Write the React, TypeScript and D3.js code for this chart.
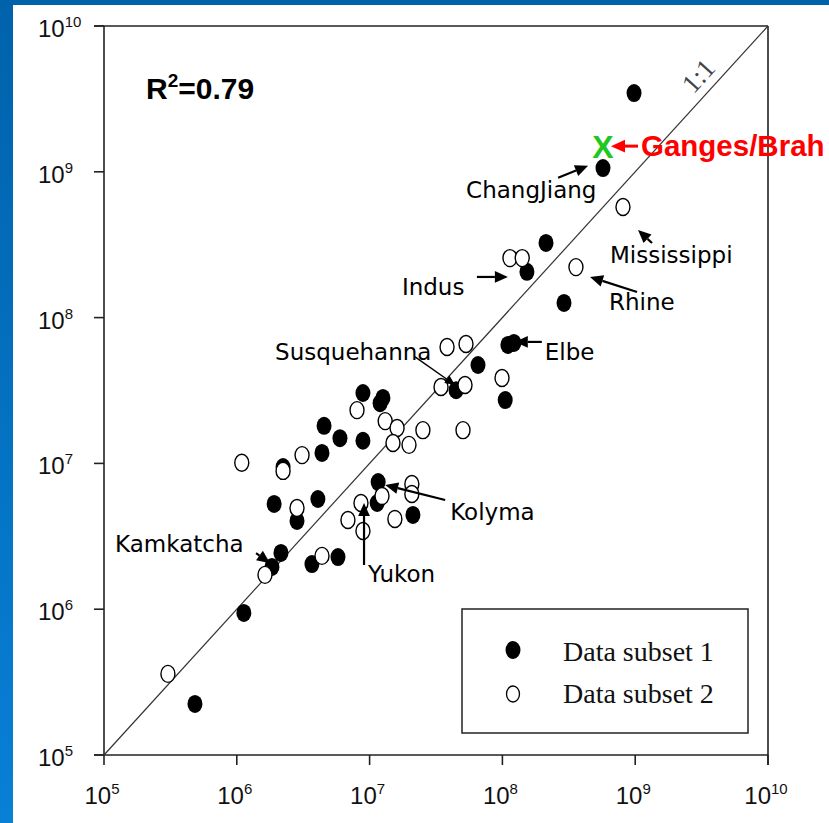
import React from "react";
import * as d3 from "d3";

const W = 829;
const H = 823;
const MARGIN = { top: 26, right: 61, bottom: 68, left: 104 };

const DECADES = [5, 6, 7, 8, 9, 10];

// Data subset 1 (filled)
const subset1X = [9.8e8, 5.72e8, 2.13e8, 1.53e8, 2.91e8, 1.1e8, 1.22e8, 6.55e7, 1.05e8, 4.48e7,
  8.91e6, 1.2e7, 1.26e7, 4.54e6, 5.98e6, 8.91e6, 4.38e6, 1.16e7, 1.14e7, 2.12e7,
  1.91e6, 2.84e6, 4.08e6, 2.15e6, 1.84e6, 3.68e6, 5.78e6, 1.13e6, 4.84e5, 2.23e6];
const subset1Y = [3.47e9, 1.06e9, 3.25e8, 2.06e8, 1.26e8, 6.49e7, 6.7e7, 4.73e7, 2.72e7, 3.18e7,
  3.04e7, 2.59e7, 2.81e7, 1.81e7, 1.49e7, 1.43e7, 1.18e7, 7.45e6, 5.35e6, 4.43e6,
  5.27e6, 4.03e6, 5.7e6, 2.43e6, 1.95e6, 2.04e6, 2.28e6, 9.42e5, 2.24e5, 9.44e6];

// Data subset 2 (open)
const subset2X = [8.09e8, 3.58e8, 1.14e8, 1.41e8, 3.83e7, 5.32e7, 3.45e7, 5.23e7, 9.93e7, 2.52e7,
  5.05e7, 8.04e6, 1.31e7, 1.61e7, 1.5e7, 1.98e7, 1.09e6, 3.1e6, 2.23e6, 2.84e6,
  2.08e7, 2.08e7, 1.24e7, 8.61e6, 6.87e6, 8.91e6, 1.55e7, 4.38e6, 1.63e6, 3.03e5];
const subset2Y = [5.74e8, 2.22e8, 2.56e8, 2.56e8, 6.28e7, 6.59e7, 3.34e7, 3.45e7, 3.85e7, 1.69e7,
  1.69e7, 2.32e7, 1.95e7, 1.75e7, 1.38e7, 1.34e7, 1.01e7, 1.14e7, 8.88e6, 4.94e6,
  7.22e6, 6.17e6, 5.97e6, 5.35e6, 4.09e6, 3.44e6, 4.16e6, 2.32e6, 1.72e6, 3.6e5];

// River annotations: arrow tip in data space, tail / text offsets in px
const rivers = [
  { name: "ChangJiang", x: 4.42e8, y: 1.1e9, tail: [-30, 12], text: [-122, 32] },
  { name: "Mississippi", x: 1.05e9, y: 3.99e8, tail: [14, 13], text: [-28, 33] },
  { name: "Indus", x: 1.1e8, y: 1.9e8, tail: [-31, 0], text: [-106, 18] },
  { name: "Rhine", x: 4.57e8, y: 1.9e8, tail: [47, 15], text: [19, 33] },
  { name: "Elbe", x: 1.24e8, y: 6.81e7, tail: [27, 0], text: [30, 18] },
  { name: "Susquehanna", x: 4.4e7, y: 3.45e7, tail: [-40, -28], text: [-180, -25] },
  { name: "Kamkatcha", x: 1.78e6, y: 2.07e6, tail: [-14, -10], text: [-155, -11] },
  { name: "Yukon", x: 9.08e6, y: 5.35e6, tail: [0, 62], text: [4, 79] },
  { name: "Kolyma", x: 1.31e7, y: 7.11e6, tail: [60, 15], text: [65, 35] },
];

// label is cut at the slide edge in the original
const ganges = { name: "Ganges/Brah", x: 5.72e8, y: 1.5e9 };

const Arrow = ({ x1, y1, x2, y2, color = "#000", head = 12, width = 2 }) => {
  const a = Math.atan2(y2 - y1, x2 - x1);
  const bx = x2 - head * Math.cos(a);
  const by = y2 - head * Math.sin(a);
  const hw = head * 0.45;
  const p1 = [bx + hw * Math.sin(a), by - hw * Math.cos(a)];
  const p2 = [bx - hw * Math.sin(a), by + hw * Math.cos(a)];
  return (
    <g>
      <line x1={x1} y1={y1} x2={bx} y2={by} stroke={color} strokeWidth={width} />
      <polygon points={`${x2},${y2} ${p1[0]},${p1[1]} ${p2[0]},${p2[1]}`} fill={color} />
    </g>
  );
};

const App = () => {
  const x = d3.scaleLog().domain([1e5, 1e10]).range([MARGIN.left, W - MARGIN.right]);
  const y = d3.scaleLog().domain([1e5, 1e10]).range([H - MARGIN.bottom, MARGIN.top]);
  const x0 = MARGIN.left, x1 = W - MARGIN.right;
  const y0 = H - MARGIN.bottom, y1 = MARGIN.top;
  const lineAngle = (Math.atan2(y(1e10) - y(1e5), x(1e10) - x(1e5)) * 180) / Math.PI;
  const tickFont = "'Liberation Sans', Arial, sans-serif";
  const annFont = "'Comic Sans MS', 'DejaVu Sans', sans-serif";

  return (
    <svg width={W} height={H} style={{ position: "absolute", left: 0, top: 0 }}
      fontFamily={tickFont}>
      <defs>
        <linearGradient id="blue" x1="0" y1="0" x2="0" y2="1">
          <stop offset="0" stopColor="#0062ab" />
          <stop offset="1" stopColor="#0880d6" />
        </linearGradient>
      </defs>
      <rect width={W} height={H} fill="#fff" />
      <rect x={0} y={0} width={13} height={H} fill="url(#blue)" />
      <rect x={0} y={0} width={W} height={5} fill="#0062ab" />

      {/* frame and axes */}
      <g stroke="#222" strokeWidth={1.6} fill="none">
        <line x1={x0} y1={y1} x2={x0} y2={y0} />
        <line x1={x0 - 10} y1={y0} x2={x1} y2={y0} />
        <line x1={x0 - 10} y1={y1} x2={x1} y2={y1} />
        <line x1={x1} y1={y1} x2={x1} y2={y0 + 10} />
        {DECADES.map((d) => (
          <g key={d}>
            <line x1={x0 - 10} y1={y(10 ** d)} x2={x0} y2={y(10 ** d)} />
            <line x1={x(10 ** d)} y1={y0} x2={x(10 ** d)} y2={y0 + 10} />
          </g>
        ))}
      </g>

      {/* tick labels */}
      <g fill="#111">
        {DECADES.map((d) => (
          <text key={`y${d}`} x={38} y={y(10 ** d) + 11} fontSize={24}>
            10<tspan dy={-10} fontSize={15}>{d}</tspan>
          </text>
        ))}
        {DECADES.map((d) => (
          <text key={`x${d}`} x={x(10 ** d) - 2} y={y0 + 49} fontSize={24} textAnchor="middle">
            10<tspan dy={-10} fontSize={15}>{d}</tspan>
          </text>
        ))}
      </g>

      {/* 1:1 line */}
      <line x1={x(1e5)} y1={y(1e5)} x2={x(1e10)} y2={y(1e10)} stroke="#333" strokeWidth={1.2} />
      <text x={0} y={0} fontFamily="'Liberation Serif', serif" fontSize={27} fill="#444"
        textAnchor="middle" transform={`translate(705,82) rotate(${lineAngle})`}>
        1:1
      </text>

      <text x={146} y={99} fontSize={30} fontWeight="bold" fill="#000">
        R<tspan dy={-12} fontSize={19}>2</tspan><tspan dy={12}>=0.79</tspan>
      </text>

      {/* points */}
      <g>
        {subset1X.map((v, i) => (
          <ellipse key={`f${i}`} cx={x(v)} cy={y(subset1Y[i])} rx={7.5} ry={9} fill="#000" />
        ))}
        {subset2X.map((v, i) => (
          <ellipse key={`o${i}`} cx={x(v)} cy={y(subset2Y[i])} rx={7} ry={8.5} fill="#fff"
            stroke="#000" strokeWidth={1.4} />
        ))}
      </g>

      {/* annotations */}
      {rivers.map((r) => {
        const tx = x(r.x), ty = y(r.y);
        return (
          <g key={r.name}>
            <Arrow x1={tx + r.tail[0]} y1={ty + r.tail[1]} x2={tx} y2={ty}
              head={r.name === "Susquehanna" ? 10 : 13} width={r.name === "Susquehanna" ? 1.5 : 2.2} />
            <text x={tx + r.text[0]} y={ty + r.text[1]} fontFamily={annFont} fontSize={23} fill="#000">
              {r.name}
            </text>
          </g>
        );
      })}

      {/* Ganges / Brahmaputra */}
      <text x={x(ganges.x)} y={y(ganges.y) + 12} fontSize={32} fontWeight="bold" fill="#1ec81e"
        textAnchor="middle">X</text>
      <Arrow x1={x(ganges.x) + 35} y1={y(ganges.y)} x2={x(ganges.x) + 8} y2={y(ganges.y)}
        color="#f00" head={14} width={3} />
      <text x={x(ganges.x) + 38} y={y(ganges.y) + 10} fontSize={29.5} fontWeight="bold" fill="#f00">
        {ganges.name}
      </text>

      {/* legend */}
      <rect x={462} y={609} width={286} height={124} fill="#fff" stroke="#222" strokeWidth={1.5} />
      <ellipse cx={513} cy={650} rx={7.5} ry={9} fill="#000" />
      <ellipse cx={513} cy={694} rx={6.5} ry={8} fill="#fff" stroke="#000" strokeWidth={1.3} />
      <g fontFamily="'Liberation Serif', 'Times New Roman', serif" fontSize={28} fill="#111">
        <text x={563} y={661}>Data subset 1</text>
        <text x={563} y={703}>Data subset 2</text>
      </g>
    </svg>
  );
};

export default App;
